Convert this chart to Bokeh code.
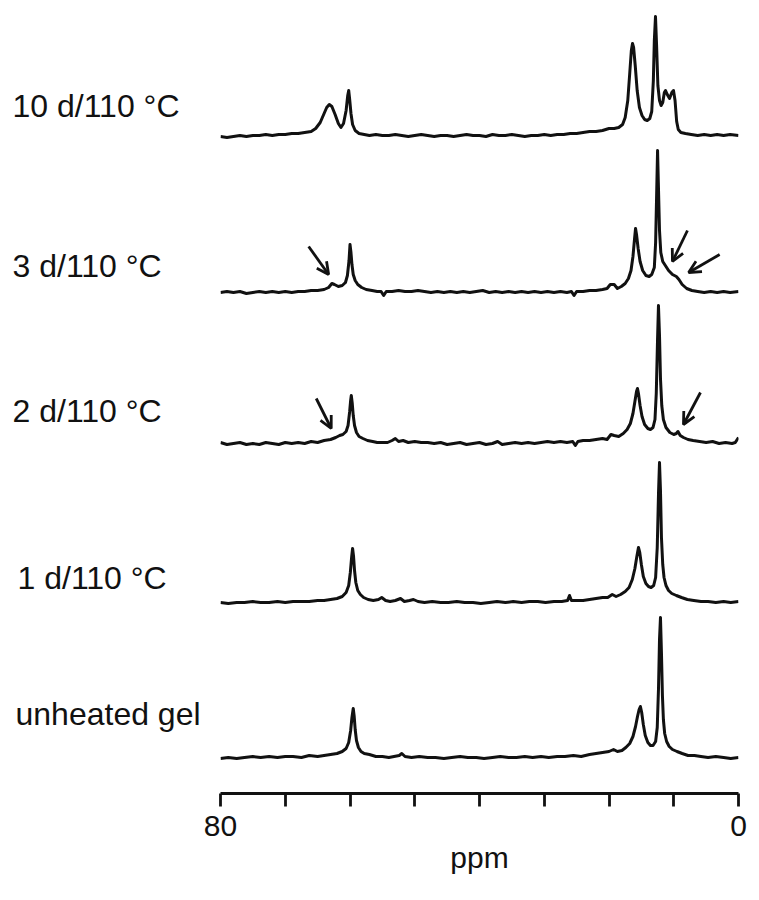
from bokeh.plotting import figure
from bokeh.layouts import row
from bokeh.models import Range1d, FixedTicker, Arrow, OpenHead
from bokeh.core.properties import value
from bokeh.embed import file_html
from bokeh.resources import INLINE

# Sample labels, top to bottom
labels = ["10 d/110 °C", "3 d/110 °C", "2 d/110 °C", "1 d/110 °C", "unheated gel"]

# Spectra as (chemical shift in ppm, intensity in arbitrary units above baseline)
spec_10d = [
    (80.0, -1), (79.0, -2), (78.0, -1), (77.0, 0), (76.0, -1), (75.0, 0), (74.0, 0), (73.0, 1),
    (72.0, 0), (71.0, 1), (70.0, 1), (69.0, 2), (68.0, 2), (67.0, 3), (66.0, 4), (65.3, 7),
    (64.6, 13), (64.0, 22), (63.6, 28), (63.2, 31), (62.8, 29), (62.3, 21), (61.8, 12), (61.4, 8),
    (61.0, 12), (60.6, 25), (60.35, 40), (60.2, 45), (60.05, 36), (59.85, 22), (59.6, 11), (59.2, 5),
    (58.6, 2), (57.8, 1), (57.0, 0), (56.0, 1), (55.0, 0), (54.0, 0), (53.0, 1), (52.0, 0),
    (51.0, -1), (50.0, 0), (49.0, 1), (48.0, 0), (47.0, -1), (46.0, 0), (45.0, 0), (44.0, -1),
    (43.0, 0), (42.0, 1), (41.0, 0), (40.0, 0), (39.0, -1), (38.0, 1), (37.0, 0), (36.0, 0),
    (35.0, 1), (34.0, 0), (33.0, -1), (32.0, 0), (31.0, 0), (30.0, 1), (29.0, 0), (28.0, 1),
    (27.0, 1), (26.0, 2), (25.0, 2), (24.0, 3), (23.0, 4), (22.0, 4), (21.0, 5), (20.0, 7),
    (19.2, 7), (18.5, 8), (17.9, 11), (17.5, 18), (17.1, 35), (16.8, 62), (16.55, 85), (16.37, 92),
    (16.2, 88), (15.95, 70), (15.65, 45), (15.3, 28), (14.9, 20), (14.5, 16), (14.1, 15), (13.7, 17),
    (13.4, 24), (13.15, 55), (13.0, 95), (12.82, 119), (12.65, 90), (12.45, 50), (12.2, 35), (11.95, 30),
    (11.7, 33), (11.45, 43), (11.27, 45), (11.0, 41), (10.65, 37), (10.3, 43), (10.04, 45), (9.8, 35),
    (9.55, 14), (9.3, 6), (8.9, 3), (8.2, 2), (7.3, 1), (6.3, 0), (5.3, 1), (4.3, 0),
    (3.3, 1), (2.3, 0), (1.3, 1), (0.0, 0),
]

spec_3d = [
    (80.0, 0), (79.0, 1), (78.0, 0), (77.0, 1), (76.0, -1), (75.0, 0), (74.0, 1), (73.0, 0),
    (72.0, 1), (71.0, 0), (70.0, 1), (69.0, 0), (68.0, 1), (67.0, 1), (66.0, 2), (65.0, 2),
    (64.0, 3), (63.3, 5), (62.8, 9), (62.4, 8), (61.8, 6), (61.2, 7), (60.7, 10), (60.4, 17),
    (60.15, 32), (60.0, 48), (59.85, 40), (59.7, 28), (59.5, 18), (59.2, 12), (58.8, 8), (58.2, 5),
    (57.5, 3), (56.6, 2), (55.8, 1), (55.2, 1), (54.8, -3), (54.4, 1), (53.5, 1), (52.5, 2),
    (51.5, 1), (50.5, 1), (49.5, 2), (48.5, 1), (47.5, 0), (46.5, 1), (45.5, 0), (44.5, 1),
    (43.5, 0), (42.5, 1), (41.5, 0), (40.5, 1), (39.5, 2), (38.5, 0), (37.5, 1), (36.5, 0),
    (35.5, 1), (34.5, 0), (33.5, 1), (32.5, 0), (31.5, 1), (30.5, 0), (29.5, 1), (28.5, 0),
    (27.5, 1), (26.5, 0), (25.8, 1), (25.4, -3), (25.0, 1), (24.0, 1), (23.0, 2), (22.0, 2),
    (21.0, 3), (20.3, 4), (19.8, 8), (19.2, 8), (18.7, 4), (18.1, 6), (17.5, 9), (17.0, 14),
    (16.6, 22), (16.3, 36), (16.05, 54), (15.9, 64), (15.75, 58), (15.5, 44), (15.2, 31), (14.8, 22),
    (14.3, 17), (13.8, 16), (13.4, 18), (13.0, 25), (12.8, 50), (12.62, 105), (12.5, 142), (12.38, 110),
    (12.2, 62), (12.0, 40), (11.7, 31), (11.3, 27), (10.8, 22), (10.2, 18), (9.6, 16), (9.2, 13),
    (8.7, 8), (8.0, 4), (7.2, 2), (6.3, 1), (5.3, 0), (4.3, 1), (3.3, 0), (2.3, 1),
    (1.3, 0), (0.0, 1),
]

spec_2d = [
    (80.0, 1), (79.0, -1), (78.0, 0), (77.0, 1), (76.0, -1), (75.0, 0), (74.0, -1), (73.0, 1),
    (72.0, 0), (71.0, -1), (70.0, 1), (69.0, 0), (68.0, 1), (67.0, 0), (66.0, 2), (65.0, 1),
    (64.0, 3), (63.0, 4), (62.2, 6), (61.6, 8), (61.1, 9), (60.6, 12), (60.3, 18), (60.05, 32),
    (59.9, 43), (59.8, 48), (59.65, 40), (59.5, 28), (59.3, 18), (59.0, 11), (58.6, 7), (58.0, 5),
    (57.3, 3), (56.5, 2), (55.8, 1), (55.0, 1), (54.2, 1), (53.5, 3), (53.0, 5), (52.5, 2),
    (51.8, 3), (51.0, 1), (50.0, 2), (49.0, 1), (48.0, 1), (47.0, 0), (46.0, 1), (45.0, -1),
    (44.0, 0), (43.0, 1), (42.0, -1), (41.0, 0), (40.0, 1), (39.0, -1), (38.0, 0), (37.2, 2),
    (36.5, -1), (35.5, 0), (34.5, 1), (33.5, 0), (32.5, 1), (31.5, 0), (30.5, 1), (29.5, 2),
    (28.5, 1), (27.5, 2), (26.5, 1), (25.6, 2), (25.2, -2), (24.8, 2), (24.0, 3), (23.0, 3),
    (22.0, 4), (21.0, 5), (20.3, 4), (19.7, 9), (19.2, 8), (18.5, 7), (17.8, 10), (17.2, 14),
    (16.7, 20), (16.3, 30), (16.0, 42), (15.75, 52), (15.6, 55), (15.45, 50), (15.2, 38), (14.9, 27),
    (14.5, 19), (14.0, 15), (13.6, 14), (13.2, 16), (12.9, 24), (12.7, 50), (12.5, 105), (12.36, 138),
    (12.2, 108), (12.05, 65), (11.85, 38), (11.6, 24), (11.2, 16), (10.6, 11), (10.0, 9), (9.6, 10),
    (9.35, 12), (9.0, 8), (8.5, 6), (7.8, 4), (7.0, 3), (6.0, 2), (5.0, 1), (4.0, 2),
    (3.0, 0), (2.0, 1), (1.0, 0), (0.5, 1), (0.0, 6),
]

spec_1d = [
    (80.0, 0), (78.8, -1), (77.5, 0), (76.3, 0), (75.0, 1), (73.8, 0), (72.5, 0), (71.2, 1),
    (70.0, 0), (68.8, 1), (67.5, 1), (66.3, 1), (65.0, 2), (64.0, 2), (63.0, 3), (62.0, 4),
    (61.2, 6), (60.6, 10), (60.2, 17), (59.95, 30), (59.75, 45), (59.6, 54), (59.45, 46), (59.3, 32),
    (59.1, 20), (58.8, 12), (58.4, 8), (57.9, 5), (57.2, 3), (56.4, 2), (55.6, 3), (55.1, 5),
    (54.5, 2), (53.8, 1), (53.0, 2), (52.2, 4), (51.6, 1), (50.8, 2), (50.2, 3), (49.5, 1),
    (48.5, 0), (47.3, 1), (46.0, 0), (44.8, 0), (43.5, 1), (42.3, 0), (41.0, 0), (39.8, -1),
    (38.5, 0), (37.3, 1), (36.0, 0), (34.8, 1), (33.5, 0), (32.3, 1), (31.0, 1), (29.8, 0),
    (28.5, 1), (27.3, 1), (26.4, 2), (26.1, 7), (25.8, 2), (25.0, 2), (24.0, 2), (23.0, 3),
    (22.0, 4), (21.0, 5), (20.2, 5), (19.5, 8), (18.9, 6), (18.2, 8), (17.5, 11), (16.9, 15),
    (16.4, 23), (16.0, 34), (15.7, 46), (15.45, 55), (15.25, 50), (15.0, 38), (14.7, 26), (14.3, 19),
    (13.9, 16), (13.5, 15), (13.1, 17), (12.8, 25), (12.55, 55), (12.35, 110), (12.2, 140), (12.05, 112),
    (11.9, 65), (11.7, 38), (11.5, 25), (11.2, 17), (10.8, 12), (10.3, 9), (9.6, 7), (8.8, 5),
    (7.9, 3), (6.9, 2), (5.8, 1), (4.7, 1), (3.5, 0), (2.3, 1), (1.2, 0), (0.0, 1),
]

spec_gel = [
    (80.0, -1), (78.8, 0), (77.5, -1), (76.3, 0), (75.0, 1), (73.8, 0), (72.5, 1), (71.2, 0),
    (70.0, 1), (68.8, 1), (67.5, 0), (66.3, 2), (65.0, 1), (64.0, 2), (63.0, 3), (62.0, 4),
    (61.2, 6), (60.6, 9), (60.2, 15), (59.9, 27), (59.7, 40), (59.5, 49), (59.35, 41), (59.2, 28),
    (59.0, 17), (58.7, 10), (58.3, 6), (57.8, 4), (57.0, 3), (56.0, 1), (55.0, 1), (54.0, 0),
    (53.2, 1), (52.4, 2), (52.0, 4), (51.5, 1), (50.5, 0), (49.3, 1), (48.0, 0), (46.8, 0),
    (45.5, -1), (44.3, 0), (43.0, 1), (41.8, 0), (40.5, 0), (39.3, -1), (38.0, 0), (36.8, 1),
    (35.5, 0), (34.3, 0), (33.0, 1), (31.8, 0), (30.5, 1), (29.3, 0), (28.0, 1), (26.8, 1),
    (25.5, 2), (24.3, 1), (23.0, 3), (22.0, 4), (21.0, 5), (20.0, 6), (19.3, 8), (18.7, 6),
    (18.0, 7), (17.4, 10), (16.8, 14), (16.3, 21), (15.9, 31), (15.6, 41), (15.35, 48), (15.15, 51),
    (14.95, 45), (14.7, 33), (14.4, 22), (14.0, 15), (13.6, 12), (13.2, 12), (12.8, 16), (12.55, 30),
    (12.35, 70), (12.2, 118), (12.05, 140), (11.9, 105), (11.75, 62), (11.6, 38), (11.4, 24), (11.1, 16),
    (10.7, 11), (10.2, 8), (9.5, 6), (8.7, 4), (7.8, 2), (6.8, 2), (5.8, 1), (4.7, 0),
    (3.5, 1), (2.3, 0), (1.2, -1), (0.0, 0),
]

spectra = [spec_10d, spec_3d, spec_2d, spec_1d, spec_gel]

# Arrows marking new shoulders: (spectrum index, ppm of tip, tip height above baseline)
shoulder_marks = [(1, 63.3, 18), (1, 10.2, 31), (1, 7.7, 20), (2, 62.9, 15), (2, 8.5, 19)]

axis_ticks = [80, 70, 60, 50, 40, 30, 20, 10, 0]
labelled_ticks = [80, 0]

# ---- layout ----
H = 900
FRAME_H = 793                            # panel height down to the ppm axis
LABEL_W = 203                            # width of the name column
PLOT_W = 556                             # width of the spectrum figure
PAD_L, PAD_R = 17, 21                    # room for the end tick labels
PX = (PLOT_W - PAD_L - PAD_R) / 80.0     # pixels per ppm
stack_offset = [658, 501, 350, 191, 36]  # baseline of each trace, in pixels above the axis
INK = "#111111"


def bare(fig):
    fig.outline_line_color = None
    fig.background_fill_color = "white"
    fig.border_fill_color = "white"
    fig.xgrid.visible = False
    fig.ygrid.visible = False


# name column, same vertical frame as the spectra (units: pixels above the axis line)
names = figure(width=LABEL_W, height=H, x_range=Range1d(0, LABEL_W), y_range=Range1d(0, FRAME_H),
               output_backend="svg", toolbar_location=None,
               x_axis_location=None, y_axis_location=None,
               min_border_left=0, min_border_right=0, min_border_top=0,
               min_border_bottom=H - FRAME_H)
bare(names)
label_px = [(12, 105), (12, 265), (12, 410), (17, 577), (15, 713)]
names.text(x=[lx for lx, _ in label_px], y=[FRAME_H - ly for _, ly in label_px], text=labels,
           text_font=value("Liberation Sans"), text_font_size=value("32px"),
           text_color=INK, text_align="left", text_baseline="middle")

# stacked spectra with the ppm scale underneath
p = figure(width=PLOT_W, height=H, x_range=Range1d(80, 0), y_range=Range1d(0, FRAME_H),
           output_backend="svg", toolbar_location=None, y_axis_location=None,
           min_border_left=PAD_L, min_border_right=PAD_R, min_border_top=0,
           min_border_bottom=H - FRAME_H)
bare(p)

for spec, off in zip(spectra, stack_offset):
    xs = [s[0] for s in spec]
    ys = [off + s[1] for s in spec]
    p.line(xs, ys, line_color=INK, line_width=3.0, line_join="round")

tails = [(-20, 28), (15, 31), (31, 18), (-15, 30), (17, 32)]
for (idx, tip_ppm, tip_h), (dx, dy) in zip(shoulder_marks, tails):
    y_tip = stack_offset[idx] + tip_h
    p.add_layout(Arrow(end=OpenHead(size=12, line_width=2.8, line_color=INK),
                       x_start=tip_ppm - dx / PX, y_start=y_tip + dy,
                       x_end=tip_ppm, y_end=y_tip,
                       line_width=2.8, line_color=INK))

ax = p.xaxis[0]
ax.ticker = FixedTicker(ticks=axis_ticks)
ax.major_label_overrides = {t: ("" if t not in labelled_ticks else str(t)) for t in axis_ticks}
ax.minor_tick_line_color = None
ax.major_tick_in = 0
ax.major_tick_out = 13
ax.axis_line_width = 2.8
ax.major_tick_line_width = 2.8
ax.axis_line_color = INK
ax.major_tick_line_color = INK
ax.major_label_text_font = "Liberation Sans"
ax.major_label_text_font_size = "30px"
ax.major_label_text_color = INK
ax.major_label_standoff = 9
ax.axis_label = "ppm"
ax.axis_label_text_font = "Liberation Sans"
ax.axis_label_text_font_size = "30px"
ax.axis_label_text_font_style = "normal"
ax.axis_label_text_color = INK
ax.axis_label_standoff = 2

layout = row(names, p, spacing=0)
open("out.html", "w").write(file_html(layout, INLINE))
